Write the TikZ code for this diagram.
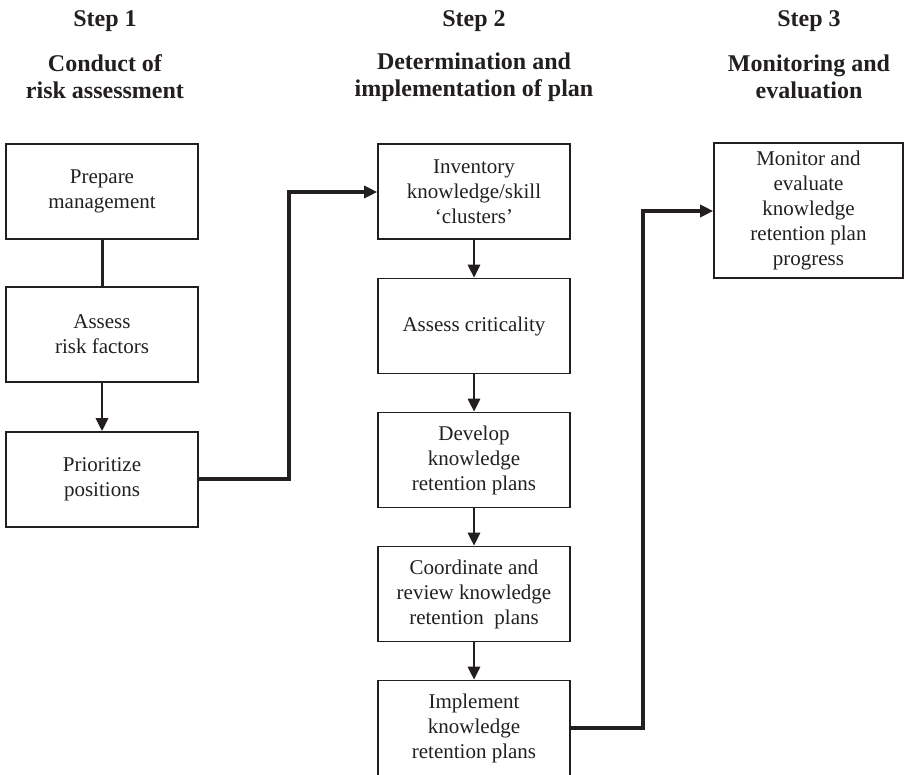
\documentclass[tikz,border=0pt]{standalone}
\usepackage{fontspec}
\setmainfont{Liberation Serif}
\usetikzlibrary{arrows.meta}
\definecolor{ink}{HTML}{231F20}
\begin{document}
\begin{tikzpicture}[x=1pt,y=-1pt,
  box/.style={draw=ink,line width=1.6pt,rectangle,minimum width=192pt,minimum height=95pt,inner sep=2pt,align=center,font=\fontsize{21}{25}\selectfont,text=ink},
  head/.style={align=center,font=\fontsize{24}{27}\selectfont\bfseries,text=ink},
  link/.style={draw=ink,line width=3pt},
  arr/.style={draw=ink,line width=2.8pt,-{Triangle[length=13pt,width=12pt]}},
  arrw/.style={draw=ink,line width=3.2pt,-{Triangle[length=13pt,width=12pt]}}
]
\useasboundingbox (0,0) rectangle (904,774);
% headers
\node[head] (s1) at (105,21) {Step 1};
\node[head] (h1) at (105,77) {Conduct of\\risk assessment};
\node[head] (s2) at (474,21) {Step 2};
\node[head] (h2) at (474,77) {Determination and\\implementation of plan};
\node[head] (s3) at (809,21) {Step 3};
\node[head] (h3) at (809,77) {Monitoring and\\evaluation};
% column 1
\node[box] (prep) at (102,191.5) {Prepare\\management};
\node[box] (risk) at (102,334.5) {Assess\\risk factors};
\node[box] (prio) at (102,479.5) {Prioritize\\positions};
% column 2
\node[box] (inv) at (474,191.5) {Inventory\\knowledge/skill\\‘clusters’};
\node[box] (crit) at (474,326) {Assess criticality};
\node[box] (dev) at (474,460) {Develop\\knowledge\\retention plans};
\node[box] (coord) at (474,594) {Coordinate and\\review knowledge\\retention\ \ plans};
\node[box] (impl) at (474,728) {Implement\\knowledge\\retention plans};
% column 3
\node[box,minimum width=189pt,minimum height=135pt] (mon) at (808.5,210.5) {Monitor and\\evaluate\\knowledge\\retention plan\\progress};
% connectors
\draw[link] (prep) -- (risk);
\draw[arr] (risk) -- (prio);
\coordinate (c1) at (289,479);
\coordinate (c2) at (289,192);
\draw[arrw] (prio.east |- c1) -- (c1) -- (c2) -- (inv.west |- c2);
\draw[arr] (inv) -- (crit);
\draw[arr] (crit) -- (dev);
\draw[arr] (dev) -- (coord);
\draw[arr] (coord) -- (impl);
\coordinate (d1) at (643,728);
\coordinate (d2) at (643,211);
\draw[arrw] (impl.east |- d1) -- (d1) -- (d2) -- (mon.west |- d2);
\end{tikzpicture}
\end{document}
